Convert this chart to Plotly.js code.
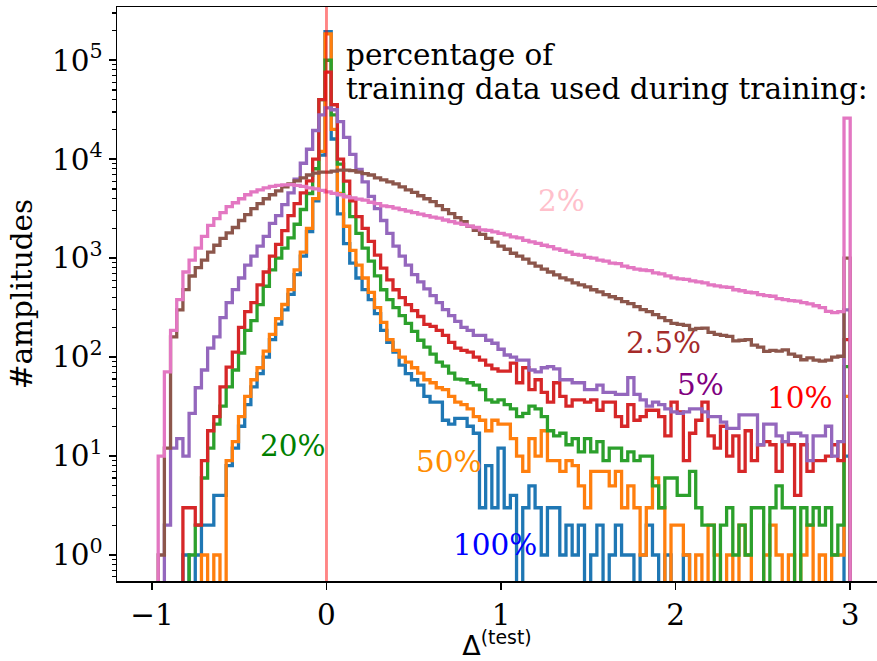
<!DOCTYPE html>
<html><head><meta charset="utf-8">
<script src="https://cdn.plot.ly/plotly-3.0.1.min.js"></script>
<style>html,body{margin:0;padding:0;background:#fff}#chart{width:877px;height:661px}</style>
</head><body><div id="chart"></div>
<script>
// histogram binning (common bins for all series)
const binRange = [-0.964, 3.0];
const nBins = 112;

// counts per bin
const pct100 = [
  0, 0, 0, 0, 1, 0, 1, 2, 2, 4,
  4, 8, 12, 20, 33, 50, 68, 100, 150, 215,
  300, 430, 680, 1050, 1850, 3800, 11000, 195000, 16000, 2800,
  1400, 890, 630, 480, 380, 275, 186, 141, 112, 83,
  68, 59, 52, 40, 35, 35, 23, 21, 24, 24,
  20, 17, 3, 8, 3, 12, 3, 4, 0, 3,
  5, 3, 1, 3, 3, 1, 2, 1, 2, 0,
  1, 2, 0, 1, 2, 1, 1, 0, 1, 2,
  1, 0, 1, 0, 0, 1, 0, 0, 0, 0,
  0, 0, 0, 0, 0, 0, 0, 0, 0, 0,
  0, 0, 0, 0, 0, 0, 0, 0, 0, 0,
  0, 10];
const pct50 = [
  0, 0, 0, 0, 0, 0, 0, 1, 0, 1,
  0, 9, 14, 25, 40, 59, 78, 115, 170, 245,
  340, 480, 760, 1150, 2000, 4000, 12000, 185000, 20000, 4500,
  2100, 1200, 850, 630, 450, 316, 224, 150, 117, 100,
  89, 78, 69, 59, 55, 49, 47, 40, 35, 33,
  30, 25, 23, 18, 23, 21, 21, 15, 10, 7,
  15, 10, 18, 9, 9, 7, 9, 8, 5, 3,
  7, 7, 7, 5, 7, 3, 5, 3, 1, 3,
  6, 3, 0, 2, 2, 1, 0, 1, 0, 2,
  1, 0, 1, 0, 2, 1, 0, 0, 1, 2,
  1, 0, 1, 0, 1, 2, 0, 1, 0, 1,
  1, 40];
const pct20 = [
  0, 0, 0, 0, 0, 1, 2, 6, 12, 21,
  32, 50, 74, 110, 186, 234, 339, 520, 760, 1000,
  1260, 1600, 2200, 3100, 4500, 8000, 40000, 100000, 28000, 8900,
  4200, 2630, 1780, 1260, 933, 661, 479, 380, 316, 263,
  219, 182, 148, 126, 107, 89, 81, 69, 60, 59,
  55, 52, 47, 37, 35, 37, 33, 30, 25, 27,
  32, 30, 25, 18, 16, 17, 13, 15, 11, 15,
  11, 14, 9, 12, 12, 9, 11, 9, 10, 10,
  5, 3, 6, 6, 4, 4, 7, 3, 2, 2,
  0, 2, 3, 1, 2, 1, 3, 3, 0, 3,
  5, 3, 3, 0, 3, 2, 3, 2, 3, 1,
  2, 80];
const pct10 = [
  0, 0, 0, 0, 3, 3, 2, 9, 18, 25,
  50, 79, 112, 200, 288, 355, 537, 724, 1050, 1380,
  1900, 2690, 3550, 4570, 6030, 10000, 40000, 76000, 35500, 10000,
  6000, 3800, 2630, 2000, 1480, 1070, 794, 603, 479, 398,
  339, 295, 257, 214, 204, 186, 166, 141, 123, 117,
  112, 100, 93, 83, 76, 72, 72, 87, 55, 78,
  47, 59, 44, 35, 55, 40, 32, 37, 37, 35,
  37, 29, 35, 35, 25, 20, 33, 23, 25, 29,
  29, 25, 16, 35, 28, 9, 17, 23, 35, 16,
  12, 20, 10, 16, 7, 18, 9, 13, 14, 13,
  7, 14, 13, 4, 13, 7, 9, 9, 10, 13,
  9, 150];
const pct5 = [
  0, 2, 12, 15, 10, 27, 49, 74, 123, 160,
  250, 355, 480, 630, 850, 1050, 1320, 1660, 2240, 2690,
  3470, 4570, 6300, 9100, 12600, 19500, 28000, 33000, 31600, 24000,
  16600, 11200, 7900, 5900, 4200, 3160, 2400, 1780, 1320, 1050,
  850, 680, 575, 490, 417, 355, 302, 263, 229, 200,
  186, 166, 166, 148, 138, 120, 105, 100, 93, 93,
  74, 71, 78, 80, 76, 59, 59, 55, 55, 47,
  47, 52, 44, 44, 42, 42, 62, 42, 37, 32,
  35, 33, 30, 28, 27, 28, 30, 30, 28, 25,
  25, 22, 19, 19, 26, 26, 26, 13, 21, 21,
  16, 14, 17, 17, 16, 9, 16, 16, 20, 10,
  14, 300];
const pct2_5 = [
  1, 12, 160, 300, 480, 660, 800, 955, 1150, 1350,
  1580, 1800, 2040, 2400, 2750, 3160, 3550, 3980, 4370, 4790,
  5250, 5620, 6030, 6460, 6920, 7240, 7410, 7410, 7590, 7760,
  7760, 7670, 7410, 7160, 6920, 6460, 6170, 5890, 5620, 5250,
  4900, 4620, 4270, 3980, 3720, 3390, 3090, 2820, 2570, 2340,
  2090, 1910, 1740, 1580, 1450, 1320, 1230, 1120, 1050, 977,
  891, 832, 776, 724, 676, 631, 603, 562, 537, 513,
  479, 457, 427, 407, 389, 363, 347, 324, 302, 288,
  269, 251, 234, 219, 214, 209, 190, 195, 196, 178,
  170, 166, 162, 146, 148, 150, 132, 126, 114, 117,
  115, 118, 107, 102, 94, 98, 93, 91, 93, 100,
  102, 1000];
const pct2 = [
  10, 71, 186, 380, 724, 955, 1260, 1660, 2140, 2510,
  2880, 3310, 3630, 3980, 4370, 4680, 4900, 5130, 5310, 5430,
  5500, 5520, 5430, 5310, 5130, 5010, 4840, 4680, 4520, 4370,
  4170, 4070, 3940, 3850, 3670, 3550, 3380, 3310, 3200, 3090,
  2990, 2880, 2790, 2690, 2600, 2540, 2430, 2340, 2260, 2190,
  2110, 2040, 1930, 1910, 1840, 1780, 1720, 1640, 1600, 1510,
  1460, 1410, 1350, 1310, 1240, 1200, 1150, 1090, 1070, 1020,
  1000, 955, 933, 891, 880, 832, 800, 776, 759, 748,
  708, 692, 661, 631, 617, 610, 589, 575, 561, 537,
  525, 513, 506, 479, 468, 452, 447, 427, 417, 412,
  389, 380, 372, 368, 355, 345, 330, 316, 290, 282,
  288, 26000];

const seriesLabels = ['100%', '50%', '20%', '10%', '5%', '2.5%', '2%'];
const seriesCounts = [pct100, pct50, pct20, pct10, pct5, pct2_5, pct2];
const xTickVals = [-1, 0, 1, 2, 3];
const xTickText = ['\u22121', '0', '1', '2', '3'];
const yTickExps = [0, 1, 2, 3, 4, 5];

// styles
const lineColors = ['#1f77b4', '#ff7f0e', '#2ca02c', '#d62728', '#9467bd', '#8c564b', '#e377c2'];
const labelColors = ['#0000ff', '#ff8c00', '#008000', '#ff0000', '#800080', '#a52a2a', '#ffc0cb'];
const labelPos = [[0.712, 0.10], [0.50, 0.94], [-0.395, 1.10], [2.51, 1.585], [1.995, 1.717], [1.705, 2.14], [1.20, 3.576]];
const serif = 'DejaVu Serif, serif';
const fs = 29.5;

function stepTrace(counts, color, name) {
  const w = (binRange[1] - binRange[0]) / nBins;
  const floor = 1e-3;
  const v = c => (c > 0 ? c : floor);
  const x = [binRange[0]], y = [floor];
  for (let i = 0; i < counts.length; i++) { x.push(binRange[0] + i * w); y.push(v(counts[i])); }
  x.push(binRange[1]); y.push(v(counts[counts.length - 1]));
  x.push(binRange[1]); y.push(floor);
  return { type: 'scatter', mode: 'lines', x: x, y: y, name: name, showlegend: false, hoverinfo: 'skip',
           line: { shape: 'hv', color: color, width: 3.3 } };
}

const traces = seriesCounts.map((c, i) => stepTrace(c, lineColors[i], seriesLabels[i]));

const minorVals = [];
for (let e = -1; e <= 5; e++) for (let m = 2; m <= 9; m++) minorVals.push(m * Math.pow(10, e));

const annotations = seriesLabels.map((t, i) => ({
  x: labelPos[i][0], y: labelPos[i][1], xref: 'x', yref: 'y', text: t, showarrow: false,
  xanchor: 'left', yanchor: 'middle', font: { family: serif, size: fs, color: labelColors[i] }
}));
annotations.push({ x: 0.1, y: 5.05, xref: 'x', yref: 'y', text: 'percentage of', showarrow: false,
  xanchor: 'left', yanchor: 'middle', font: { family: serif, size: fs, color: '#000' } });
annotations.push({ x: 0.1, y: 4.71, xref: 'x', yref: 'y', text: 'training data used during training:', showarrow: false,
  xanchor: 'left', yanchor: 'middle', font: { family: serif, size: fs, color: '#000' } });

const layout = {
  width: 877, height: 661,
  margin: { l: 117, r: 0, t: 7, b: 80 },
  paper_bgcolor: '#fff', plot_bgcolor: '#fff',
  showlegend: false,
  xaxis: {
    range: [-1.2, 3.1536], showgrid: false, zeroline: false,
    showline: true, linecolor: '#000', linewidth: 1.5, mirror: true,
    ticks: 'outside', ticklen: 7, tickwidth: 1.5, tickcolor: '#000',
    tickvals: xTickVals, ticktext: xTickText,
    tickfont: { family: serif, size: fs, color: '#000' },
    title: { text: '\u0394<sup>(test)</sup>', font: { family: 'DejaVu Sans, sans-serif', size: 27, color: '#000' }, standoff: 10 }
  },
  yaxis: {
    type: 'log', range: [-0.263, 5.538], showgrid: false, zeroline: false,
    showline: true, linecolor: '#000', linewidth: 1.5, mirror: false,
    ticks: 'outside', ticklen: 7, tickwidth: 1.5, tickcolor: '#000',
    tickvals: yTickExps.map(e => Math.pow(10, e)),
    ticktext: yTickExps.map(e => '10<sup>' + e + '</sup>'),
    tickfont: { family: serif, size: fs, color: '#000' },
    minor: { ticks: 'outside', ticklen: 4, tickwidth: 1.1, tickcolor: '#000', tickvals: minorVals, showgrid: false },
    title: { text: '#amplitudes', font: { family: serif, size: fs, color: '#000' }, standoff: 10 }
  },
  shapes: [{ type: 'line', xref: 'x', yref: 'paper', x0: 0, x1: 0, y0: 0, y1: 1, layer: 'above',
             line: { color: 'rgba(255,0,0,0.48)', width: 2.9 } }],
  annotations: annotations
};

Plotly.newPlot('chart', traces, layout, { displayModeBar: false, staticPlot: true });
</script></body></html>
